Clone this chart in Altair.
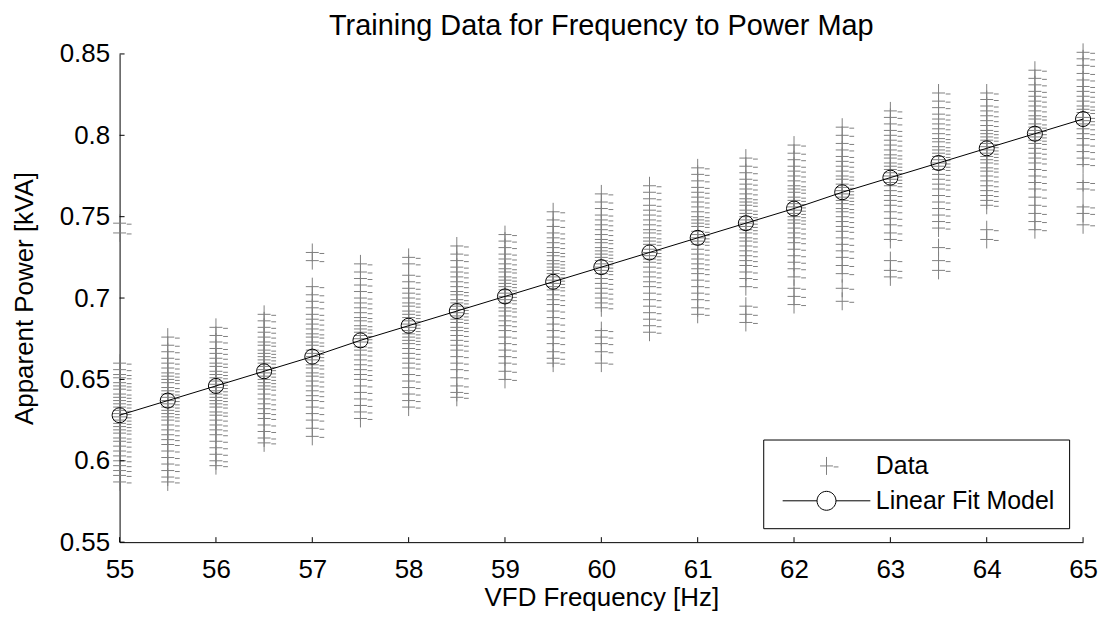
import altair as alt
import pandas as pd

FONT = "Liberation Sans, Arial, sans-serif"

freqs = [55.0, 55.5, 56.0, 56.5, 57.0, 57.5, 58.0, 58.5, 59.0, 59.5, 60.0,
         60.5, 61.0, 61.5, 62.0, 62.5, 63.0, 63.5, 64.0, 64.5, 65.0]

p_55_0 = [0.660, 0.656, 0.653, 0.651, 0.648, 0.646, 0.644, 0.641, 0.639, 0.637, 0.635, 0.633, 0.631, 0.629, 0.627, 0.625,
          0.623, 0.621, 0.619, 0.617, 0.614, 0.612, 0.609, 0.606, 0.603, 0.600, 0.597, 0.594, 0.591, 0.587, 0.746, 0.740]
p_55_5 = [0.676, 0.671, 0.667, 0.663, 0.660, 0.657, 0.654, 0.652, 0.650, 0.648, 0.645, 0.643, 0.641, 0.639, 0.637, 0.635,
          0.633, 0.631, 0.629, 0.627, 0.625, 0.622, 0.619, 0.616, 0.613, 0.610, 0.606, 0.602, 0.598, 0.594, 0.590, 0.587]
p_56_0 = [0.682, 0.677, 0.673, 0.669, 0.666, 0.663, 0.660, 0.658, 0.655, 0.653, 0.651, 0.649, 0.647, 0.645, 0.643, 0.641,
          0.639, 0.637, 0.635, 0.633, 0.630, 0.628, 0.625, 0.622, 0.619, 0.616, 0.612, 0.608, 0.604, 0.600, 0.597]
p_56_5 = [0.690, 0.686, 0.682, 0.679, 0.676, 0.673, 0.671, 0.668, 0.666, 0.664, 0.662, 0.660, 0.658, 0.656, 0.654, 0.652,
          0.650, 0.648, 0.646, 0.644, 0.641, 0.638, 0.635, 0.632, 0.629, 0.626, 0.622, 0.618, 0.614, 0.611]
p_57_0 = [0.707, 0.702, 0.698, 0.694, 0.690, 0.687, 0.684, 0.681, 0.678, 0.676, 0.673, 0.671, 0.668, 0.666, 0.664, 0.662,
          0.659, 0.657, 0.654, 0.652, 0.649, 0.646, 0.643, 0.640, 0.637, 0.633, 0.629, 0.625, 0.620, 0.615, 0.728, 0.723]
p_57_5 = [0.721, 0.716, 0.712, 0.708, 0.704, 0.700, 0.697, 0.694, 0.691, 0.688, 0.686, 0.683, 0.681, 0.679, 0.677, 0.675,
          0.673, 0.670, 0.668, 0.665, 0.662, 0.659, 0.656, 0.653, 0.650, 0.646, 0.642, 0.638, 0.634, 0.630, 0.626]
p_58_0 = [0.714, 0.710, 0.706, 0.703, 0.700, 0.697, 0.695, 0.692, 0.690, 0.688, 0.686, 0.684, 0.682, 0.680, 0.678, 0.676,
          0.674, 0.672, 0.669, 0.666, 0.663, 0.660, 0.657, 0.653, 0.649, 0.645, 0.641, 0.637, 0.633, 0.725, 0.721]
p_58_5 = [0.732, 0.727, 0.723, 0.719, 0.716, 0.713, 0.710, 0.707, 0.704, 0.702, 0.699, 0.697, 0.695, 0.693, 0.691, 0.689,
          0.687, 0.685, 0.682, 0.680, 0.677, 0.674, 0.671, 0.668, 0.664, 0.660, 0.656, 0.651, 0.646, 0.642, 0.639]
p_59_0 = [0.739, 0.735, 0.731, 0.727, 0.724, 0.721, 0.718, 0.716, 0.713, 0.711, 0.709, 0.707, 0.705, 0.703, 0.701, 0.699,
          0.697, 0.694, 0.692, 0.689, 0.686, 0.683, 0.680, 0.676, 0.672, 0.668, 0.664, 0.660, 0.655, 0.650]
p_59_5 = [0.753, 0.748, 0.744, 0.740, 0.737, 0.734, 0.731, 0.728, 0.726, 0.723, 0.721, 0.719, 0.717, 0.715, 0.713, 0.711,
          0.709, 0.707, 0.705, 0.702, 0.699, 0.696, 0.692, 0.688, 0.684, 0.680, 0.676, 0.672, 0.667, 0.663, 0.660]
p_60_0 = [0.764, 0.759, 0.755, 0.751, 0.748, 0.745, 0.742, 0.739, 0.736, 0.734, 0.731, 0.729, 0.727, 0.725, 0.723, 0.721,
          0.719, 0.717, 0.715, 0.712, 0.709, 0.706, 0.703, 0.700, 0.697, 0.694, 0.680, 0.676, 0.672, 0.667, 0.660]
p_60_5 = [0.769, 0.765, 0.761, 0.757, 0.754, 0.751, 0.748, 0.745, 0.742, 0.740, 0.737, 0.735, 0.733, 0.730, 0.728, 0.726,
          0.724, 0.722, 0.719, 0.716, 0.713, 0.710, 0.707, 0.703, 0.699, 0.695, 0.691, 0.687, 0.683, 0.679]
p_61_0 = [0.780, 0.776, 0.772, 0.768, 0.765, 0.762, 0.759, 0.756, 0.753, 0.750, 0.748, 0.746, 0.744, 0.741, 0.739, 0.737,
          0.735, 0.733, 0.730, 0.727, 0.724, 0.721, 0.718, 0.715, 0.711, 0.707, 0.703, 0.699, 0.694, 0.690]
p_61_5 = [0.786, 0.781, 0.777, 0.773, 0.770, 0.767, 0.764, 0.761, 0.759, 0.757, 0.754, 0.752, 0.750, 0.748, 0.746, 0.744,
          0.742, 0.740, 0.737, 0.735, 0.732, 0.729, 0.726, 0.723, 0.720, 0.716, 0.712, 0.707, 0.695, 0.690, 0.685]
p_62_0 = [0.794, 0.789, 0.785, 0.781, 0.778, 0.775, 0.772, 0.769, 0.767, 0.765, 0.762, 0.760, 0.758, 0.756, 0.754, 0.752,
          0.750, 0.748, 0.746, 0.743, 0.740, 0.737, 0.734, 0.730, 0.726, 0.722, 0.718, 0.713, 0.706, 0.701, 0.696]
p_62_5 = [0.805, 0.800, 0.795, 0.791, 0.787, 0.784, 0.781, 0.778, 0.775, 0.773, 0.770, 0.768, 0.766, 0.764, 0.762, 0.760,
          0.758, 0.755, 0.753, 0.750, 0.747, 0.744, 0.741, 0.737, 0.733, 0.729, 0.725, 0.720, 0.715, 0.706, 0.698]
p_63_0 = [0.815, 0.811, 0.807, 0.803, 0.800, 0.797, 0.794, 0.791, 0.788, 0.786, 0.783, 0.781, 0.779, 0.777, 0.775, 0.773,
          0.771, 0.769, 0.766, 0.763, 0.760, 0.757, 0.753, 0.749, 0.745, 0.740, 0.736, 0.723, 0.717, 0.713]
p_63_5 = [0.826, 0.821, 0.817, 0.813, 0.810, 0.807, 0.804, 0.801, 0.798, 0.796, 0.793, 0.791, 0.789, 0.787, 0.785, 0.783,
          0.781, 0.779, 0.776, 0.773, 0.770, 0.767, 0.763, 0.759, 0.755, 0.751, 0.747, 0.743, 0.731, 0.723, 0.717]
p_64_0 = [0.826, 0.822, 0.818, 0.815, 0.812, 0.809, 0.806, 0.803, 0.801, 0.799, 0.797, 0.795, 0.793, 0.791, 0.789, 0.787,
          0.785, 0.783, 0.780, 0.778, 0.775, 0.772, 0.769, 0.766, 0.763, 0.760, 0.757, 0.742, 0.736]
p_64_5 = [0.840, 0.835, 0.831, 0.827, 0.824, 0.821, 0.818, 0.815, 0.812, 0.810, 0.807, 0.805, 0.803, 0.801, 0.799, 0.797,
          0.795, 0.792, 0.789, 0.786, 0.783, 0.779, 0.775, 0.771, 0.767, 0.762, 0.757, 0.752, 0.747, 0.742]
p_65_0 = [0.851, 0.847, 0.843, 0.838, 0.834, 0.830, 0.827, 0.824, 0.821, 0.818, 0.816, 0.814, 0.811, 0.809, 0.807, 0.804,
          0.801, 0.798, 0.794, 0.790, 0.786, 0.782, 0.771, 0.767, 0.756, 0.752, 0.745]

power_columns = [p_55_0, p_55_5, p_56_0, p_56_5, p_57_0, p_57_5, p_58_0, p_58_5, p_59_0, p_59_5, p_60_0,
                 p_60_5, p_61_0, p_61_5, p_62_0, p_62_5, p_63_0, p_63_5, p_64_0, p_64_5, p_65_0]

fit_power = [0.628, 0.637, 0.646, 0.655, 0.664, 0.674, 0.683, 0.692, 0.701, 0.710, 0.719,
             0.728, 0.737, 0.746, 0.755, 0.765, 0.774, 0.783, 0.792, 0.801, 0.810]

x_ticks = [55, 56, 57, 58, 59, 60, 61, 62, 63, 64, 65]
y_ticks = [0.55, 0.60, 0.65, 0.70, 0.75, 0.80, 0.85]

series_names = ["Data", "Linear Fit Model"]

rows = []
for f, vals in zip(freqs, power_columns):
    for v in vals:
        rows.append({"freq": f, "power": v, "series": series_names[0]})
data_df = pd.DataFrame(rows)
fit_df = pd.DataFrame({"freq": freqs, "power": fit_power})
xt_df = pd.DataFrame({"freq": x_ticks})
yt_df = pd.DataFrame({"power": y_ticks})

GRAY = "#808080"
# plus marker (with the small offset dash seen in the reference), drawn with size 400 -> 10 px per unit
PLUS = "M-0.65,0H0.65M0,-0.9V0.9M0.72,0.1H1.2"
# legend symbol for the fit: line with hollow circle
FIT_SYM = "M-4.4,0H-0.95M0.95,0A0.95,0.95 0 1,1 -0.95,0A0.95,0.95 0 1,1 0.95,0M0.95,0H4.4"

shape_scale = alt.Scale(domain=series_names, range=[PLUS, FIT_SYM])
stroke_scale = alt.Scale(domain=series_names, range=[GRAY, "#000000"])

xscale = alt.Scale(domain=[55, 65], nice=False, zero=False)
yscale = alt.Scale(domain=[0.55, 0.85], nice=False, zero=False)
xaxis = alt.Axis(values=x_ticks, format="d", title="VFD Frequency [Hz]", ticks=False, grid=False,
                 labelPadding=14, titlePadding=3, labelFlush=False)
yaxis = alt.Axis(values=y_ticks, format=".2~f", title="Apparent Power [kVA]", ticks=False, grid=False,
                 labelPadding=10, titlePadding=22, labelFlush=False)

x_enc = alt.X("freq:Q", scale=xscale, axis=xaxis)
y_enc = alt.Y("power:Q", scale=yscale, axis=yaxis)

legend = alt.Legend(
    title=None, orient="bottom-right", offset=14, fillColor="white", strokeColor="black",
    padding=14, symbolSize=400, symbolOffset=37, labelFontSize=25, labelFont=FONT, labelColor="black",
    labelOffset=37, labelLimit=400, rowPadding=9, symbolStrokeWidth=1, symbolFillColor="transparent",
)

points = alt.Chart(data_df).mark_point(filled=False, size=400, strokeWidth=1, opacity=1).encode(
    x=x_enc, y=y_enc,
    shape=alt.Shape("series:N", scale=shape_scale, legend=legend),
    stroke=alt.Stroke("series:N", scale=stroke_scale, legend=legend),
)
fit_line = alt.Chart(fit_df).mark_line(color="black", strokeWidth=1).encode(x=x_enc, y=y_enc)
fit_pts = alt.Chart(fit_df).mark_point(shape="circle", filled=False, size=227, strokeWidth=1,
                                       color="black", opacity=1).encode(x=x_enc, y=y_enc)

xticks = alt.Chart(xt_df).mark_rule(color="black", strokeWidth=1).encode(
    x=x_enc, y=alt.value(490), y2=alt.value(485))
yticks = alt.Chart(yt_df).mark_rule(color="black", strokeWidth=1).encode(
    y=y_enc, x=alt.value(0), x2=alt.value(5))

chart = alt.layer(points, fit_line, fit_pts, xticks, yticks).properties(
    width=967, height=490,
    title=alt.TitleParams("Training Data for Frequency to Power Map", font=FONT, fontSize=29,
                          fontWeight="normal", color="black", frame="group", offset=0, anchor="middle"),
    autosize=alt.AutoSizeParams(type="none"),
    padding={"left": 112, "top": 45, "right": 18, "bottom": 70},
    background="white",
).configure_view(stroke=None).configure_axis(
    domainColor="black", domainWidth=1, labelFont=FONT, labelFontSize=26, labelColor="black",
    titleFont=FONT, titleFontSize=26, titleFontWeight="normal", titleColor="black",
)

chart.save("out.html", embed_options={"renderer": "svg", "actions": False})
